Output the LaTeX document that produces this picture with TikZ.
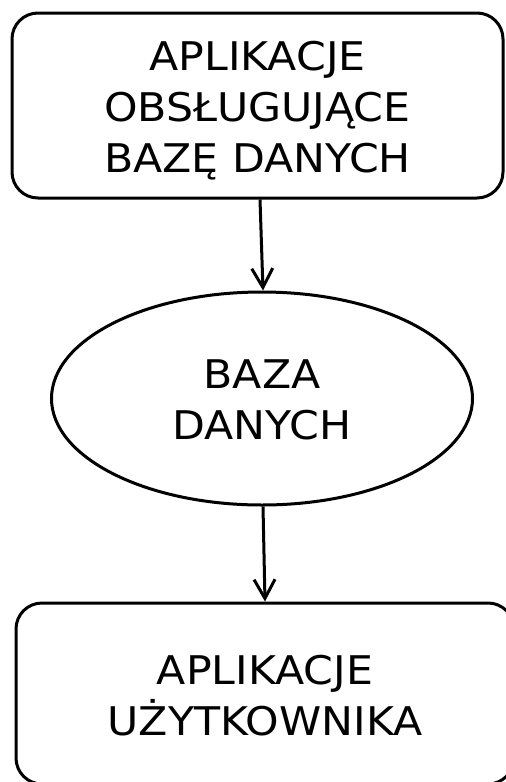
\documentclass[tikz,border=0pt]{standalone}
\usepackage{fontspec}
\setmainfont{DejaVu Sans}[FakeStretch=1.08]
\usetikzlibrary{shapes.geometric,arrows.meta}

\newcommand{\labeltext}{\fontsize{39.5pt}{51pt}\selectfont}
% stacked lines, moved down by #1 without changing the box the node sees
\newcommand{\lines}[2][0pt]{\raisebox{#1}[\height][\depth]{\begin{tabular}{@{}c@{}}#2\end{tabular}}}

\tikzset{
  stage/.style={draw, line width=3pt, rounded corners=26pt, inner sep=0pt,
    font=\labeltext},
  store/.style={draw, ellipse, line width=3pt, inner sep=0pt,
    font=\labeltext},
  flow/.style={line width=3pt, -{Straight Barb[length=19pt,width=21pt,line width=3pt]}}
}

\begin{document}
\begin{tikzpicture}[x=1pt,y=-1pt]
  \useasboundingbox (0,0) rectangle (506,782);
  \fill[white] (0,0) rectangle (506,782);

  % database tools
  \node[stage, minimum width=491pt, minimum height=185pt] (tools) at (257.5,105.5)
    {\lines[-6pt]{APLIKACJE\\OBSŁUGUJĄCE\\BAZĘ DANYCH}};

  % the database itself
  \node[store, minimum width=421pt, minimum height=213pt] (db) at (262,398.5)
    {\lines[-5pt]{BAZA\\DANYCH}};

  % end-user applications
  \node[stage, minimum width=498pt, minimum height=181pt] (users) at (265,693.5)
    {\lines[-6pt]{APLIKACJE\\UŻYTKOWNIKA}};

  \draw[flow] ([xshift=2.5pt]tools.south) -- ([xshift=1pt]db.north);
  \draw[flow] ([xshift=1pt]db.south) -- (users.north);
\end{tikzpicture}
\end{document}
